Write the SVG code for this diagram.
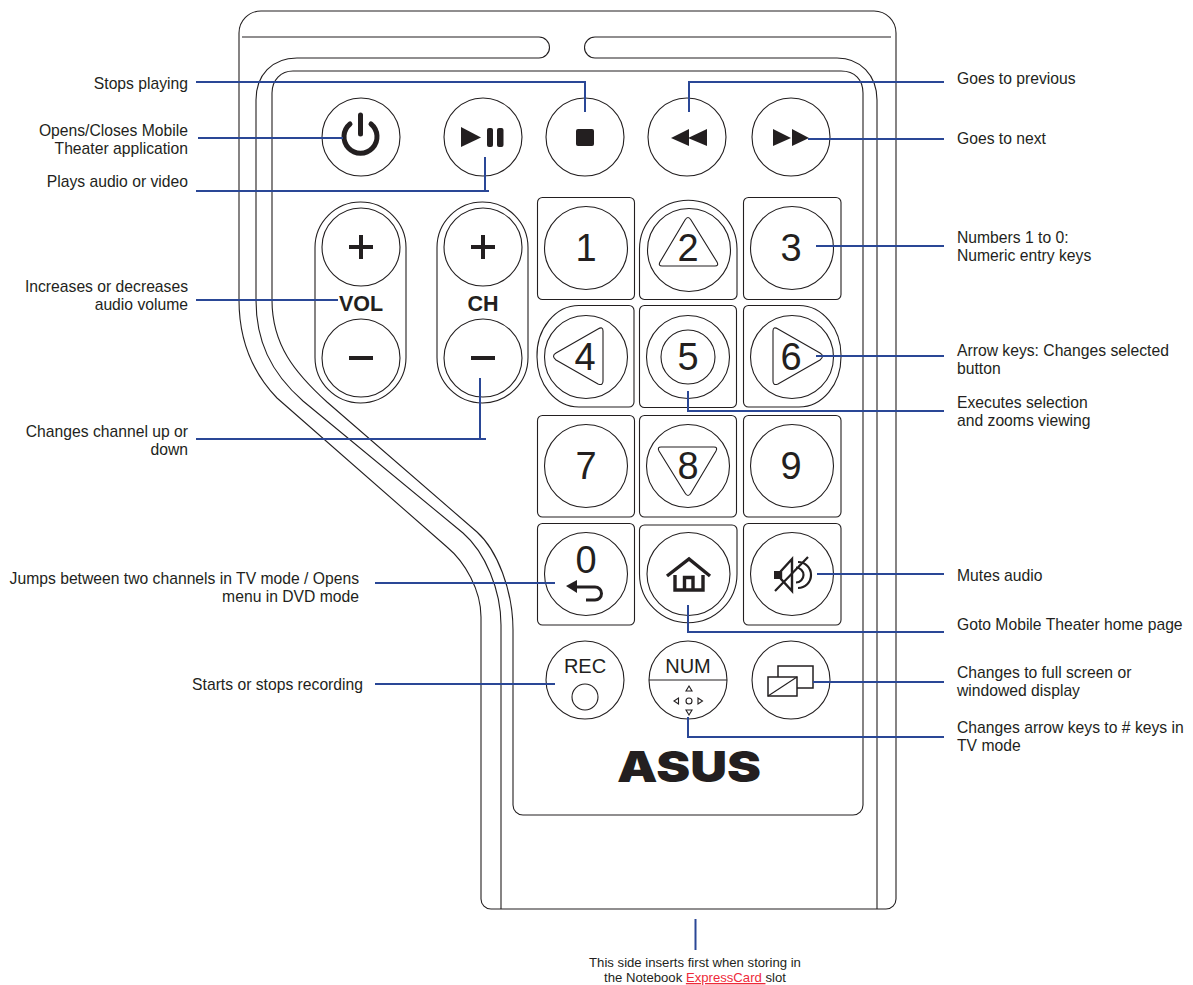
<svg xmlns="http://www.w3.org/2000/svg" width="1193" height="985" viewBox="0 0 1193 985">
<style>
text{font-family:"Liberation Sans",Arial,sans-serif;fill:#231f20}
.l{font-size:15.7px}
.r{text-anchor:end}
.c{text-anchor:middle}
.s{font-size:13.15px}
.d{font-size:38px;text-anchor:middle}
.o{font-size:20px;text-anchor:middle}
.b{font-size:21.5px;font-weight:bold;text-anchor:middle}
.k{fill:none;stroke:#231f20;stroke-width:1.1}
.f{fill:#231f20;stroke:none}
.i{fill:none;stroke:#231f20;stroke-width:3}
.t{fill:none;stroke:#2a4796;stroke-width:2}
</style>
<rect width="1193" height="985" fill="#fff"/>
<g id="body">
<path class="k" d="M261,11H874A22,22 0 0 1 896,33V899A10,10 0 0 1 886,909H491A10,10 0 0 1 481,899V617C481,590 465,562 447,547L277,398C252,372 239,340 239,300V33A22,22 0 0 1 261,11Z"/>
<path class="k" d="M242,37H539A10.5,10.5 0 0 1 539,58H297C272,58 256,75 256,100V300C256,340 270,372 303,401L463,533C485,552 501,590 501,625V909"/>
<path class="k" d="M891,37H595A10.5,10.5 0 0 0 595,58H837C860,58 877,75 877,100V909"/>
<path class="k" d="M293,71H841C855,71 863,80 863,93V805A10,10 0 0 1 853,815H523A10,10 0 0 1 513,805V630C513,590 497,550 477,532L327,402C295,373 272,345 272,300V93C272,80 281,71 293,71Z"/>
</g>
<g id="btn-power"><circle class="k" cx="361" cy="137" r="39"/><path d="M350,124A16.500,16.500 0 1 0 371,124" fill="none" stroke="#231f20" stroke-width="5" stroke-linecap="round"/><path d="M360.500,115V134" fill="none" stroke="#231f20" stroke-width="5" stroke-linecap="round"/></g>
<g id="btn-play"><circle class="k" cx="483" cy="137" r="39"/><path class="f" d="M461,127L481,137.5L461,147Z"/><rect class="f" x="487" y="128" width="6" height="19" rx="2"/><rect class="f" x="497" y="128" width="6.500" height="19" rx="2"/></g>
<g id="btn-stop"><circle class="k" cx="585" cy="137" r="39"/><rect class="f" x="576" y="129" width="18" height="17" rx="2"/></g>
<g id="btn-rew"><circle class="k" cx="687" cy="137" r="39"/><path class="f" d="M671,138L689,129V146ZM688,138L707,129V146Z"/></g>
<g id="btn-ff"><circle class="k" cx="791" cy="137" r="39"/><path class="f" d="M773,129L791,138L773,146ZM792,129L809,138L792,146Z"/></g>
<g id="vol"><rect class="k" x="315" y="202" width="91" height="201" rx="45.500"/><circle class="k" cx="361" cy="247" r="39"/><circle class="k" cx="361" cy="358" r="39"/><path class="f" d="M349,245H359V235H363V245H373V249H363V259H359V249H349Z"/><rect class="f" x="349" y="356" width="24" height="4"/><text class="b" x="361" y="311">VOL</text></g>
<g id="ch"><rect class="k" x="437" y="202" width="91" height="201" rx="45.500"/><circle class="k" cx="483" cy="247" r="39"/><circle class="k" cx="483" cy="358" r="39"/><path class="f" d="M471,245H481V235H485V245H495V249H485V259H481V249H471Z"/><rect class="f" x="471" y="356" width="24" height="4"/><text class="b" x="483" y="311">CH</text></g>
<g id="key1"><rect class="k" x="537.500" y="197.500" width="97" height="102" rx="5"/><circle class="k" cx="586" cy="248" r="41.500"/><text class="d" x="586" y="261">1</text></g>
<g id="key2"><path class="k" d="M639.500,249A48.750,48.750 0 0 1 737,249V294A5,5 0 0 1 732,299.500H644.500A5,5 0 0 1 639.500,294Z"/><circle class="k" cx="689" cy="250" r="41.500"/><path class="k" d="M685,220Q688,215 691,220L717,262Q719,266 715,266H662Q658,266 660,262Z"/><text class="d" x="688" y="261">2</text></g>
<g id="key3"><rect class="k" x="743.500" y="197.500" width="97.500" height="102" rx="5"/><circle class="k" cx="792" cy="248" r="41.500"/><text class="d" x="791" y="261">3</text></g>
<g id="key4"><path class="k" d="M579,305.500H629A5,5 0 0 1 634,310.500V402A5,5 0 0 1 629,407H579A42,50 0 0 1 537,357A42,50 0 0 1 579,305.500Z"/><circle class="k" cx="586" cy="357" r="41.500"/><path class="k" d="M556,353L598,329Q603,326 603,331V381Q603,386 598,384L556,360Q551,356 556,353Z"/><text class="d" x="585" y="370">4</text></g>
<g id="key5"><rect class="k" x="639.500" y="305.500" width="97" height="102" rx="5"/><circle class="k" cx="688" cy="357" r="41.500"/><circle class="k" cx="688" cy="357" r="27"/><text class="d" x="688" y="370">5</text></g>
<g id="key6"><path class="k" d="M748.500,305.500H799A42,50 0 0 1 841,357A42,50 0 0 1 799,407H748.500A5,5 0 0 1 743.500,402V310.500A5,5 0 0 1 748.500,305.500Z"/><circle class="k" cx="792" cy="357" r="41.500"/><path class="k" d="M820,353L778,329Q773,326 773,331V381Q773,386 778,384L820,360Q825,356 820,353Z"/><text class="d" x="791" y="370">6</text></g>
<g id="key7"><rect class="k" x="537.500" y="415.500" width="97" height="101.500" rx="5"/><circle class="k" cx="586" cy="466" r="41.500"/><text class="d" x="586" y="479">7</text></g>
<g id="key8"><rect class="k" x="639.500" y="415.500" width="97" height="101.500" rx="5"/><circle class="k" cx="688" cy="466" r="41.500"/><path class="k" d="M685,493Q688,498 691,493L716,451Q718,447 714,447H661Q657,447 659,451Z"/><text class="d" x="688" y="479">8</text></g>
<g id="key9"><rect class="k" x="743.500" y="415.500" width="97.500" height="101.500" rx="5"/><circle class="k" cx="792" cy="466" r="41.500"/><text class="d" x="791" y="479">9</text></g>
<g id="key0"><rect class="k" x="537.500" y="523.500" width="97" height="101.500" rx="5"/><circle class="k" cx="586" cy="574" r="41.500"/><text class="d" x="586" y="573">0</text><path class="f" d="M566,586L577,580V593Z"/><path class="i" d="M576,587H595A6.500,6.500 0 0 1 595,600H586"/></g>
<g id="key-home"><path class="k" d="M644.500,525H732A5,5 0 0 1 737,530V574A48.750,48.750 0 0 1 639.500,574V530A5,5 0 0 1 644.500,525Z"/><circle class="k" cx="688.500" cy="574" r="41.500"/><path d="M667,576L689,559L710,576M675,575V590H703V575M684.500,590V577.500H693V590" fill="none" stroke="#231f20" stroke-width="3.400"/></g>
<g id="key-mute"><rect class="k" x="743.500" y="523.500" width="97.500" height="101.500" rx="5"/><circle class="k" cx="792" cy="574" r="41.500"/><rect class="f" x="774" y="571" width="7" height="8"/><path d="M781,571L792,559V591L781,579Z" fill="none" stroke="#231f20" stroke-width="2.400"/><path d="M775,591L808,557M796,567.500A7.500,7.500 0 0 1 796,582.500M798,562A13,13 0 0 1 798,588" fill="none" stroke="#231f20" stroke-width="2.200"/></g>
<g id="btn-rec"><circle class="k" cx="585" cy="680" r="39"/><text class="o" x="585" y="673">REC</text><circle class="k" cx="585" cy="697" r="13"/></g>
<g id="btn-num"><circle class="k" cx="688" cy="680" r="39"/><text class="o" x="688" y="673">NUM</text><path class="k" d="M649,680H727"/><path class="k" d="M689,686L692,691H686ZM678.500,698V704L674,701ZM698,698V704L702.500,701ZM686,710H692L689,715Z"/><circle class="k" cx="689" cy="701" r="3"/></g>
<g id="btn-screen"><circle class="k" cx="791" cy="680" r="39"/><rect x="778" y="666" width="35" height="22" fill="#fff" stroke="#231f20" stroke-width="1.500"/><rect x="768" y="677" width="29" height="19" fill="#fff" stroke="#231f20" stroke-width="1.500"/><path class="k" d="M768,696L797,677"/></g>
<g id="logo"><text x="617" y="782" style="font-family:Inter,'Liberation Sans',sans-serif" font-size="43" font-weight="900" textLength="144" lengthAdjust="spacingAndGlyphs">ASUS</text></g>
<g id="connectors">
<path class="t" d="M196,82H585V112"/>
<path class="t" d="M198,138H343"/>
<path class="t" d="M196,191H489M485,157V191"/>
<path class="t" d="M196,300H338"/>
<path class="t" d="M196,439H486M480,378V439"/>
<path class="t" d="M375,583H555"/>
<path class="t" d="M375,684H555"/>
<path class="t" d="M689,112V82H944"/>
<path class="t" d="M808,139H944"/>
<path class="t" d="M816,246H944"/>
<path class="t" d="M816,356H944"/>
<path class="t" d="M688,391V411H944"/>
<path class="t" d="M817,574H944"/>
<path class="t" d="M688,605V632H944"/>
<path class="t" d="M813,682H944"/>
<path class="t" d="M688,717V737H944"/>
<path class="t" d="M695.500,919V950"/>
</g>
<g id="labels">
<text class="l r" x="188" y="89">Stops playing</text>
<text class="l r" x="188" y="136">Opens/Closes Mobile</text>
<text class="l r" x="188" y="154">Theater application</text>
<text class="l r" x="188" y="187">Plays audio or video</text>
<text class="l r" x="188" y="292">Increases or decreases</text>
<text class="l r" x="188" y="310">audio volume</text>
<text class="l r" x="188" y="437">Changes channel up or</text>
<text class="l r" x="188" y="455">down</text>
<text class="l r" x="359" y="584">Jumps between two channels in TV mode / Opens</text>
<text class="l r" x="359" y="602">menu in DVD mode</text>
<text class="l r" x="363" y="690">Starts or stops recording</text>
<text class="l" x="957" y="84">Goes to previous</text>
<text class="l" x="957" y="144">Goes to next</text>
<text class="l" x="957" y="243">Numbers 1 to 0:</text>
<text class="l" x="957" y="261">Numeric entry keys</text>
<text class="l" x="957" y="356">Arrow keys: Changes selected</text>
<text class="l" x="957" y="374">button</text>
<text class="l" x="957" y="408">Executes selection</text>
<text class="l" x="957" y="426">and zooms viewing</text>
<text class="l" x="957" y="581">Mutes audio</text>
<text class="l" x="957" y="630">Goto Mobile Theater home page</text>
<text class="l" x="957" y="678">Changes to full screen or</text>
<text class="l" x="957" y="696">windowed display</text>
<text class="l" x="957" y="733">Changes arrow keys to # keys in</text>
<text class="l" x="957" y="751">TV mode</text>
<text class="s c" x="695" y="967">This side inserts first when storing in</text>
<text class="s c" x="695" y="982">the Notebook <tspan text-decoration="underline" style="fill:#ee2a3a">ExpressCard </tspan>slot</text>
</g>
</svg>
